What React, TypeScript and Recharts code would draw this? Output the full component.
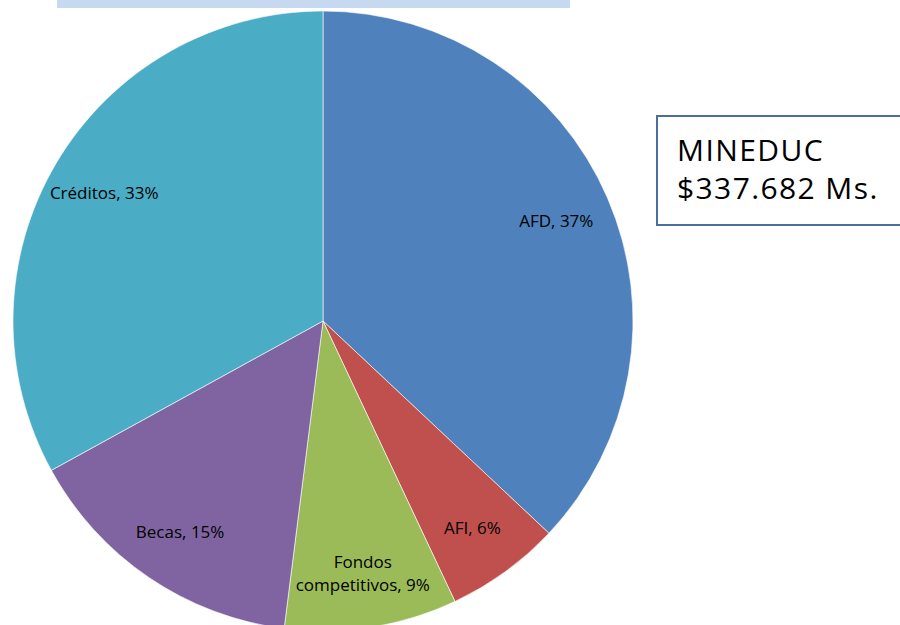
import React from 'react';
import { PieChart, Pie, Cell } from 'recharts';

const categories = ['AFD', 'AFI', 'Fondos competitivos', 'Becas', 'Créditos'];
const shares = [37, 6, 9, 15, 33];
const colors = ['#4F81BD', '#C0504D', '#9BBB59', '#8064A2', '#4BACC6'];
const boxLines = ['MINEDUC', '$337.682 Ms.'];

const data = categories.map((name, i) => ({ name, value: shares[i] }));

const RAD = Math.PI / 180;
const font = "'Open Sans', 'Noto Sans', sans-serif";

function renderLabel(props: any) {
  const { cx, cy, midAngle, outerRadius, name, value } = props;
  const r = outerRadius * 0.82;
  const x = cx + r * Math.cos(-midAngle * RAD);
  const y = cy + r * Math.sin(-midAngle * RAD);
  const text = `${name}, ${value}%`;
  // long names wrap onto two lines like in the original
  const parts = name.includes(' ') ? [name.split(' ')[0], `${name.split(' ').slice(1).join(' ')}, ${value}%`] : [text];
  const lh = 23;
  const y0 = y - ((parts.length - 1) * lh) / 2;
  return (
    <text x={x} y={y0} textAnchor="middle" dominantBaseline="central" fill="#000" fontSize={17} fontFamily={font}>
      {parts.map((p, i) => (
        <tspan key={i} x={x} dy={i === 0 ? 0 : lh}>{p}</tspan>
      ))}
    </text>
  );
}

export default function App() {
  return (
    <div style={{ position: 'absolute', left: 0, top: 0, width: 900, height: 625, background: '#fff', overflow: 'hidden' }}>
      <div style={{ position: 'absolute', left: 57, top: 0, width: 513, height: 8, background: '#C6D9F1' }} />
      <PieChart width={900} height={625} margin={{ top: 0, right: 0, bottom: 0, left: 0 }}>
        <Pie
          data={data}
          dataKey="value"
          nameKey="name"
          cx={323}
          cy={321}
          outerRadius={310}
          startAngle={90}
          endAngle={-270}
          stroke="#ffffff"
          strokeWidth={0.6}
          label={renderLabel}
          labelLine={false}
          isAnimationActive={false}
        >
          {data.map((d, i) => (
            <Cell key={d.name} fill={colors[i]} />
          ))}
        </Pie>
      </PieChart>
      <div
        style={{
          position: 'absolute',
          left: 656,
          top: 115,
          width: 270,
          height: 111,
          border: '2px solid #4A6F9E',
          boxSizing: 'border-box',
          background: '#fff',
          padding: '14px 0 0 19px',
          fontFamily: font,
          fontSize: 30,
          letterSpacing: 1.4,
          lineHeight: '38px',
          color: '#000',
          whiteSpace: 'nowrap',
        }}
      >
        {boxLines.map((l) => (
          <div key={l}>{l}</div>
        ))}
      </div>
    </div>
  );
}
